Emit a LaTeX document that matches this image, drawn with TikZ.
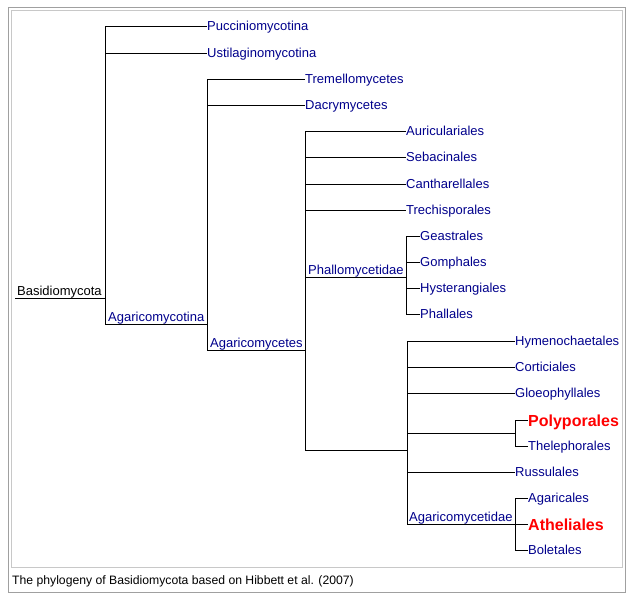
\documentclass[tikz,border=0pt]{standalone}
\usepackage{fontspec}
\setmainfont{Liberation Sans}
\definecolor{navy}{RGB}{0,0,140}
\definecolor{hired}{RGB}{255,0,0}
\definecolor{outerframe}{RGB}{160,160,160}
\definecolor{innerframe}{RGB}{200,200,200}
\begin{document}
\begin{tikzpicture}[x=1pt,y=-1pt,
  leaf/.style={anchor=west,inner sep=0pt,text=navy,text height=9pt,text depth=0pt,
    font=\fontsize{13}{13}\selectfont},
  hilite/.style={anchor=west,inner sep=0pt,text=hired,text height=12pt,text depth=0pt,
    font=\fontsize{16}{16}\selectfont\bfseries},
  clade/.style={anchor=base west,inner sep=0pt,text=navy,
    font=\fontsize{13}{13}\selectfont},
  rootlbl/.style={anchor=base west,inner sep=0pt,text=black,
    font=\fontsize{13}{13}\selectfont},
  branch/.style={draw=black,line width=1pt},
  caption/.style={anchor=base west,inner sep=0pt,text=black,
    font=\fontsize{12.2}{12.2}\selectfont}]
\useasboundingbox (0,0) rectangle (632,597);
\fill[white] (0,0) rectangle (632,597);
\draw[outerframe,line width=1pt] (8,7) rectangle (625,592);
\draw[innerframe,line width=1pt] (11,10.5) rectangle (622,567);

% root
\coordinate (root) at (15,298);
\coordinate (j1) at (105,298);
\node[rootlbl] (basid) at (17,295.3) {Basidiomycota};
% level 1
\node[leaf] (puc) at (207,26) {Pucciniomycotina};
\node[leaf] (ust) at (207,53) {Ustilaginomycotina};
\coordinate (j2) at (207,324);
\node[clade] (agmt) at (108,321.3) {Agaricomycotina};
% level 2
\node[leaf] (tre) at (305,79) {Tremellomycetes};
\node[leaf] (dac) at (305,105) {Dacrymycetes};
\coordinate (j3) at (305,350);
\node[clade] (agcs) at (210,347.3) {Agaricomycetes};
% level 3
\node[leaf] (aur) at (406,131) {Auriculariales};
\node[leaf] (seb) at (406,157) {Sebacinales};
\node[leaf] (can) at (406,184) {Cantharellales};
\node[leaf] (tri) at (406,210) {Trechisporales};
\coordinate (j4) at (406,277);
\node[clade] (phal) at (308,274.3) {Phallomycetidae};
\coordinate (j5) at (407,450);
% Phallomycetidae
\node[leaf] (gea) at (420,236) {Geastrales};
\node[leaf] (gom) at (420,262) {Gomphales};
\node[leaf] (hys) at (420,288) {Hysterangiales};
\node[leaf] (phl) at (420,314) {Phallales};
% remaining
\node[leaf] (hym) at (515,341) {Hymenochaetales};
\node[leaf] (cor) at (515,367) {Corticiales};
\node[leaf] (glo) at (515,393) {Gloeophyllales};
\coordinate (j6) at (515,433);
\node[leaf] (rus) at (515,472) {Russulales};
\coordinate (j7) at (515,524.5);
\node[clade] (agcd) at (409,521.8) {Agaricomycetidae};
\node[hilite] (pol) at (528,420) {Polyporales};
\node[leaf] (the) at (528,446) {Thelephorales};
\node[leaf] (aga) at (528,498) {Agaricales};
\node[hilite] (ath) at (528,524) {Atheliales};
\node[leaf] (bol) at (528,550) {Boletales};

% branches
\draw[branch] (root) -- (j1);
\draw[branch] (j1) |- (puc.west);
\draw[branch] (j1) |- (ust.west);
\draw[branch] (j1) |- (j2);
\draw[branch] (j2) |- (tre.west);
\draw[branch] (j2) |- (dac.west);
\draw[branch] (j2) |- (j3);
\draw[branch] (j3) |- (aur.west);
\draw[branch] (j3) |- (seb.west);
\draw[branch] (j3) |- (can.west);
\draw[branch] (j3) |- (tri.west);
\draw[branch] (j3) |- (j4);
\draw[branch] (j3) |- (j5);
\draw[branch] (j4) |- (gea.west);
\draw[branch] (j4) |- (gom.west);
\draw[branch] (j4) |- (hys.west);
\draw[branch] (j4) |- (phl.west);
\draw[branch] (j5) |- (hym.west);
\draw[branch] (j5) |- (cor.west);
\draw[branch] (j5) |- (glo.west);
\draw[branch] (j5) |- (j6);
\draw[branch] (j5) |- (rus.west);
\draw[branch] (j5) |- (j7);
\draw[branch] (j6) |- (pol.west);
\draw[branch] (j6) |- (the.west);
\draw[branch] (j7) |- (aga.west);
\draw[branch] (j7) |- (ath.west);
\draw[branch] (j7) |- (bol.west);

\node[caption] (cap) at (12,584) {The phylogeny of Basidiomycota based on Hibbett et al. (2007)};
\end{tikzpicture}
\end{document}
